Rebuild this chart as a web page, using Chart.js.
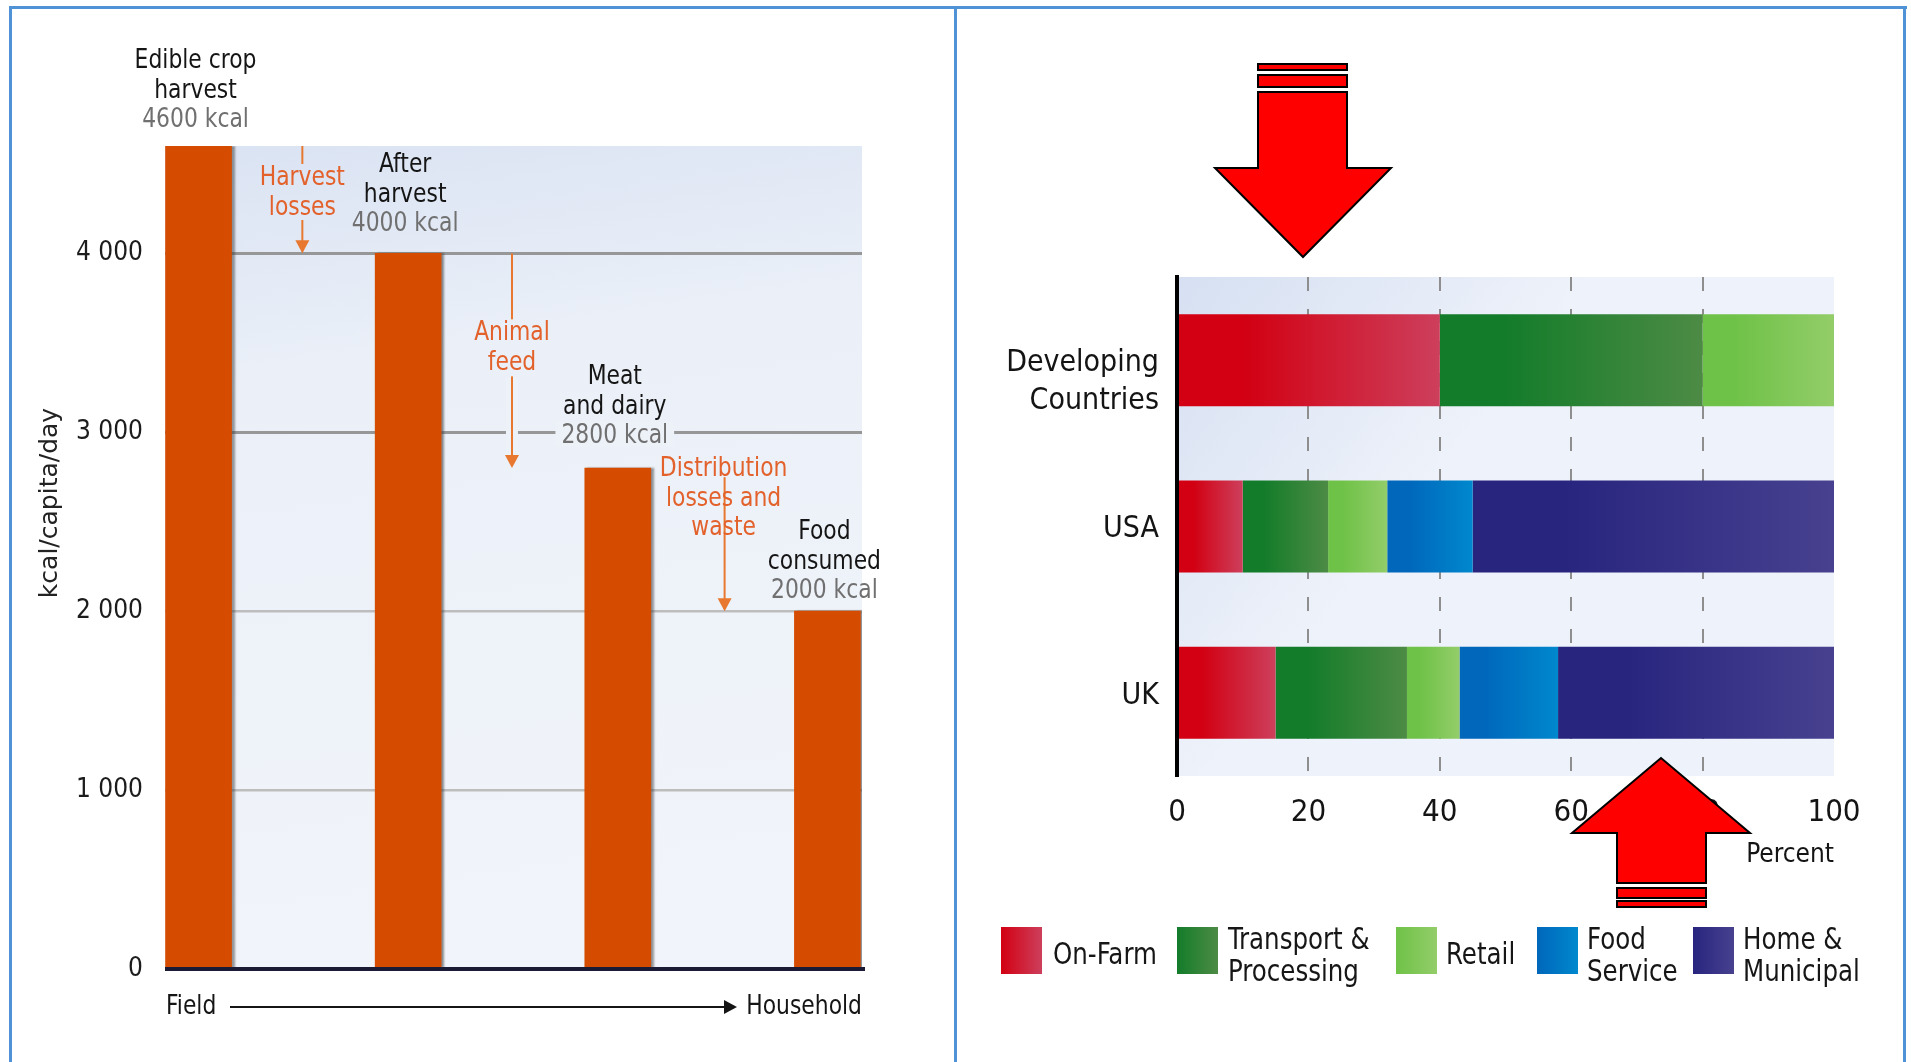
<!DOCTYPE html>
<html><head><meta charset="utf-8">
<title>Food losses along the chain</title>
<script src="https://cdn.jsdelivr.net/npm/chart.js@4.4.1/dist/chart.umd.min.js"></script>
<style>
html,body{margin:0;padding:0;background:#fff;}
body{position:relative;width:1911px;height:1062px;overflow:hidden;font-family:"Liberation Sans Narrow","Arial Narrow","DejaVu Sans Condensed",sans-serif;color:#161616;}
.pane{position:absolute;top:0;height:1062px;}
#leftPane{left:0;width:956px;}
#rightPane{left:958px;width:953px;}
.rule{position:absolute;background:#4f93d6;}
.sw{position:absolute;top:927px;width:41px;height:47px;}
.lt{position:absolute;font-size:31px;line-height:32px;white-space:nowrap;color:#161616;transform:scaleX(0.88);transform-origin:0 0;}
</style></head><body>
<div class="pane" id="leftPane"><canvas id="left"></canvas></div>
<div class="pane" id="rightPane"><canvas id="right"></canvas></div>
<div class="rule" style="left:9px;top:6px;width:1898px;height:3px"></div>
<div class="rule" style="left:9px;top:6px;width:3px;height:1056px"></div>
<div class="rule" style="left:954px;top:6px;width:3px;height:1056px"></div>
<div class="rule" style="left:1903px;top:6px;width:3px;height:1056px"></div>
<div id="legend"></div>
<script>
// ---------- data: left chart ----------
const stageLines = [['Edible crop','harvest'],['After','harvest'],['Meat','and dairy'],['Food','consumed']];
const stageKcal = [4600, 4000, 2800, 2000];
const lossLines = [['Harvest','losses'],['Animal','feed'],['Distribution','losses and','waste']];
const kcalTicks = [0, 1000, 2000, 3000, 4000];
const yTitle = 'kcal/capita/day';
const flowStart = 'Field', flowEnd = 'Household';

// ---------- data: right chart ----------
const countries = [['','Developing','Countries'], 'USA', 'UK'];
const sectors = ['On-Farm','Transport & Processing','Retail','Food Service','Home & Municipal'];
const legendLines = [['On-Farm'],['Transport &','Processing'],['Retail'],['Food','Service'],['Home &','Municipal']];
const onFarm        = [40, 10, 15];
const transport     = [40, 13, 20];
const retail        = [20,  9,  8];
const foodService   = [ 0, 13, 15];
const homeMunicipal = [ 0, 55, 42];
const percentTicks = [0, 20, 40, 60, 80, 100];
const xTitle = 'Percent';

// ---------- styles ----------
const NARROW = '"Liberation Sans Narrow","Arial Narrow","DejaVu Sans Condensed",sans-serif';
const sectorColors = [['#d20012','#cd3f5c'],['#137c2a','#4d8b45'],['#6fc248','#93cd69'],['#0067bb','#0088cd'],['#28257f','#47418f']];
const seriesVals = [onFarm, transport, retail, foodService, homeMunicipal];

// condensed text helper for canvas annotations
function ctext(ctx, t, x, y, align, sx) {
  ctx.save();
  ctx.translate(x, y); ctx.scale(sx, 1);
  ctx.textAlign = align; ctx.textBaseline = 'middle';
  ctx.fillText(t, 0, 0);
  ctx.restore();
}

// ================= LEFT CHART =================
const leftDeco = {
  id: 'leftDeco',
  beforeDraw(chart) {
    const {ctx, chartArea: a} = chart;
    const g = ctx.createLinearGradient(a.left, a.top, a.left + 120, a.bottom);
    g.addColorStop(0, '#dae3f3');
    g.addColorStop(0.3, '#ebf0f8');
    g.addColorStop(1, '#f1f4fa');
    ctx.save(); ctx.fillStyle = g; ctx.fillRect(a.left, a.top, a.right - a.left, a.bottom - a.top); ctx.restore();
  },
  beforeDatasetsDraw(chart) {
    const ctx = chart.ctx;
    ctx.save();
    ctx.shadowColor = 'rgba(60,60,60,0.55)';
    ctx.shadowOffsetX = 3; ctx.shadowOffsetY = 0; ctx.shadowBlur = 2;
  },
  afterDatasetsDraw(chart) {
    const {ctx, chartArea: a} = chart;
    ctx.restore();
    const xs = chart.scales.x, ys = chart.scales.y;
    const ORANGE = '#e3612a', LINE = '#e8782f', BG = '#edf1f8';
    const SX = 0.9;
    const step = 29.5;
    ctx.save();
    // zero axis line
    ctx.strokeStyle = '#1b1b35'; ctx.lineWidth = 4;
    ctx.beginPath(); ctx.moveTo(a.left, ys.getPixelForValue(0)); ctx.lineTo(a.right + 3, ys.getPixelForValue(0)); ctx.stroke();

    function vline(x, y0, y1) { ctx.strokeStyle = LINE; ctx.lineWidth = 2; ctx.beginPath(); ctx.moveTo(x, y0); ctx.lineTo(x, y1); ctx.stroke(); }
    function head(x, y) { ctx.fillStyle = LINE; ctx.beginPath(); ctx.moveTo(x - 7, y - 13); ctx.lineTo(x + 7, y - 13); ctx.lineTo(x, y); ctx.closePath(); ctx.fill(); }
    ctx.font = '27px ' + NARROW;

    // loss arrows
    const hx = xs.getPixelForValue(0.5) - 1;
    const hTop = ys.getPixelForValue(stageKcal[0]), hBot = ys.getPixelForValue(stageKcal[1]);
    vline(hx, hTop, hTop + 18); vline(hx, hTop + 74, hBot - 2); head(hx, hBot);
    const ax = xs.getPixelForValue(1.5) - 1;
    const aTop = ys.getPixelForValue(stageKcal[1]), aBot = ys.getPixelForValue(stageKcal[2]);
    vline(ax, aTop, aTop + 66);
    ctx.fillStyle = BG; ctx.fillRect(ax - 6, aTop + 124, 12, aBot - aTop - 136);
    vline(ax, aTop + 123, aBot - 2); head(ax, aBot);
    const dx = xs.getPixelForValue(2.5) + 2;
    const dBot = ys.getPixelForValue(stageKcal[3]);
    vline(dx, dBot - 134, dBot - 2); head(dx, dBot);

    // loss labels
    const lossY = [hTop + 32, aTop + 80, ys.getPixelForValue(stageKcal[2]) + 1];
    lossLines.forEach((lines, i) => {
      const cx = xs.getPixelForValue(i + 0.5) + (i === 2 ? 1 : -1);
      ctx.fillStyle = ORANGE;
      lines.forEach((t, j) => ctext(ctx, t, cx, lossY[i] + j * step, 'center', SX));
    });

    // stage labels
    const lift = [26, 29, 32, 20];
    stageLines.forEach((lines, i) => {
      const cx = xs.getPixelForValue(i) - 3;
      const yLast = ys.getPixelForValue(stageKcal[i]) - lift[i];
      const all = lines.concat([stageKcal[i] + ' kcal']);
      all.forEach((t, j) => {
        const y = yLast - (all.length - 1 - j) * step;
        if (j === all.length - 1) {
          if (i === 2) { const w = ctx.measureText(t).width * SX; ctx.fillStyle = BG; ctx.fillRect(cx - w / 2 - 6, y - 14, w + 12, 24); }
          ctx.fillStyle = '#707070';
        } else ctx.fillStyle = '#151515';
        ctext(ctx, t, cx, y, 'center', SX);
      });
    });

    // field -> household
    const fy = a.bottom + 38;
    ctx.fillStyle = '#151515';
    ctext(ctx, flowStart, a.left + 1, fy, 'left', SX);
    ctext(ctx, flowEnd, a.right, fy, 'right', SX);
    ctx.strokeStyle = '#151515'; ctx.lineWidth = 2;
    ctx.beginPath(); ctx.moveTo(a.left + 65, fy); ctx.lineTo(a.left + 562, fy); ctx.stroke();
    ctx.beginPath(); ctx.moveTo(a.left + 572, fy); ctx.lineTo(a.left + 559, fy - 7); ctx.lineTo(a.left + 559, fy + 7); ctx.closePath(); ctx.fill();

    // y title
    ctx.save();
    ctx.translate(50, 503); ctx.rotate(-Math.PI / 2);
    ctx.textAlign = 'center'; ctx.textBaseline = 'middle'; ctx.font = '25px "DejaVu Sans", sans-serif'; ctx.fillStyle = '#222';
    ctx.fillText(yTitle, 0, 0);
    ctx.restore();
    ctx.restore();
  }
};

new Chart(document.getElementById('left'), {
  type: 'bar',
  data: { datasets: [{ label: 'kcal', data: stageKcal.map((v, i) => ({x: i, y: v})), backgroundColor: '#d54c00', borderWidth: 0, barThickness: 66 }] },
  options: {
    responsive: true, maintainAspectRatio: false, animation: false,
    layout: { padding: { left: 0, right: 94, top: 146, bottom: 93 } },
    plugins: { legend: { display: false }, tooltip: { enabled: false } },
    scales: {
      x: { type: 'linear', display: false, offset: false, min: -0.16, max: 3.165 },
      y: {
        min: 0, max: 4600,
        afterFit: s => { s.width = 165; },
        afterBuildTicks: s => { s.ticks = kcalTicks.map(v => ({value: v})); },
        grid: {
          drawTicks: false,
          color: c => c.tick.value === 0 ? 'rgba(0,0,0,0)' : (c.tick.value >= 3000 ? '#979797' : '#bdbdbd'),
          lineWidth: c => c.tick.value >= 3000 ? 3 : 2.5
        },
        border: { display: false },
        ticks: { font: { family: NARROW, size: 26 }, color: '#1c1c1c', padding: 22,
          callback: v => String(v).replace(/\B(?=(\d{3})+(?!\d))/g, ' ') }
      }
    }
  },
  plugins: [leftDeco]
});

// ================= RIGHT CHART =================
function segGradient(k) {
  return c => {
    const chart = c.chart, a = chart.chartArea;
    if (!a || c.type !== 'data') return sectorColors[k][0];
    const xs = chart.scales.x;
    let start = 0;
    for (let j = 0; j < k; j++) start += seriesVals[j][c.dataIndex];
    const end = start + seriesVals[k][c.dataIndex];
    const x0 = xs.getPixelForValue(start), x1 = xs.getPixelForValue(end);
    if (x1 - x0 < 1) return sectorColors[k][0];
    const g = chart.ctx.createLinearGradient(x0, 0, x1, 0);
    g.addColorStop(0, sectorColors[k][0]);
    g.addColorStop(0.25, sectorColors[k][0]);
    g.addColorStop(1, sectorColors[k][1]);
    return g;
  };
}

const OFF = 958;
const rightDeco = {
  id: 'rightDeco',
  beforeDraw(chart) {
    const {ctx, chartArea: a} = chart;
    const g = ctx.createLinearGradient(a.left, a.top, a.left + 260, a.top + 200);
    g.addColorStop(0, '#d6e0f2');
    g.addColorStop(1, '#eef2fa');
    ctx.save(); ctx.fillStyle = g; ctx.fillRect(a.left, a.top, a.right - a.left, a.bottom - a.top); ctx.restore();
  },
  afterDraw(chart) {
    const ctx = chart.ctx;
    ctx.save();
    ctx.fillStyle = '#ff0000'; ctx.strokeStyle = '#000'; ctx.lineWidth = 2; ctx.lineJoin = 'miter';
    function poly(pts) { ctx.beginPath(); pts.forEach((p, i) => i ? ctx.lineTo(p[0] - OFF, p[1]) : ctx.moveTo(p[0] - OFF, p[1])); ctx.closePath(); ctx.fill(); ctx.stroke(); }
    function rect(x, y, w, h) { ctx.fillRect(x - OFF, y, w, h); ctx.strokeRect(x - OFF, y, w, h); }
    // down arrow
    rect(1258, 64, 89, 6); rect(1258, 75, 89, 12);
    poly([[1258, 92], [1347, 92], [1347, 168], [1391, 168], [1303, 257], [1215, 168], [1258, 168]]);
    // up arrow
    poly([[1617, 883], [1617, 833], [1572, 833], [1661, 758], [1750, 833], [1706, 833], [1706, 883]]);
    rect(1617, 888, 89, 10); rect(1617, 901, 89, 6);
    ctx.restore();
  }
};

new Chart(document.getElementById('right'), {
  type: 'bar',
  data: {
    labels: countries,
    datasets: sectors.map((name, k) => ({
      label: name, data: seriesVals[k], backgroundColor: segGradient(k),
      borderWidth: 0, barPercentage: 0.553, categoryPercentage: 1
    }))
  },
  options: {
    indexAxis: 'y', responsive: true, maintainAspectRatio: false, animation: false,
    layout: { padding: { left: 0, right: 77, top: 277, bottom: 186 } },
    plugins: { legend: { display: false }, tooltip: { enabled: false } },
    scales: {
      x: {
        type: 'linear', stacked: true, min: 0, max: 100,
        afterBuildTicks: s => { s.ticks = percentTicks.map(v => ({value: v})); },
        afterFit: s => { s.height = 100; },
        grid: { drawTicks: false, lineWidth: 2,
          color: c => (c.tick && (c.tick.value === 0 || c.tick.value === 100)) ? 'rgba(0,0,0,0)' : '#8e8e8e' },
        border: { display: false, dash: [14, 18] },
        ticks: { font: { family: NARROW, size: 31 }, color: '#141414', padding: 18 },
        title: { display: true, text: xTitle, align: 'end', font: { family: NARROW, size: 26 }, color: '#141414', padding: { top: 0, bottom: 5 } }
      },
      y: {
        type: 'category', stacked: true, offset: true,
        afterFit: s => { s.width = 219; },
        grid: { display: false },
        border: { display: true, color: '#000', width: 4, z: 1 },
        ticks: { font: { family: NARROW, size: 30, lineHeight: 1.27 }, color: '#141414', padding: 10, labelOffset: 3 }
      }
    }
  },
  plugins: [rightDeco]
});

// ---------- legend (HTML) ----------
const legendSwatchX = [1001, 1177, 1396, 1537, 1693];
const legendTextX = [1053, 1228, 1446, 1587, 1743];
const leg = document.getElementById('legend');
sectors.forEach((name, k) => {
  const sw = document.createElement('div');
  sw.className = 'sw';
  sw.title = name;
  sw.style.left = legendSwatchX[k] + 'px';
  sw.style.background = 'linear-gradient(to right,' + sectorColors[k][0] + ',' + sectorColors[k][1] + ')';
  leg.appendChild(sw);
  const t = document.createElement('div');
  t.className = 'lt';
  t.style.left = legendTextX[k] + 'px';
  t.style.top = (legendLines[k].length > 1 ? 922 : 937) + 'px';
  t.innerHTML = legendLines[k].map(s => s.replace('&', '&amp;')).join('<br>');
  leg.appendChild(t);
});
</script>
</body></html>
